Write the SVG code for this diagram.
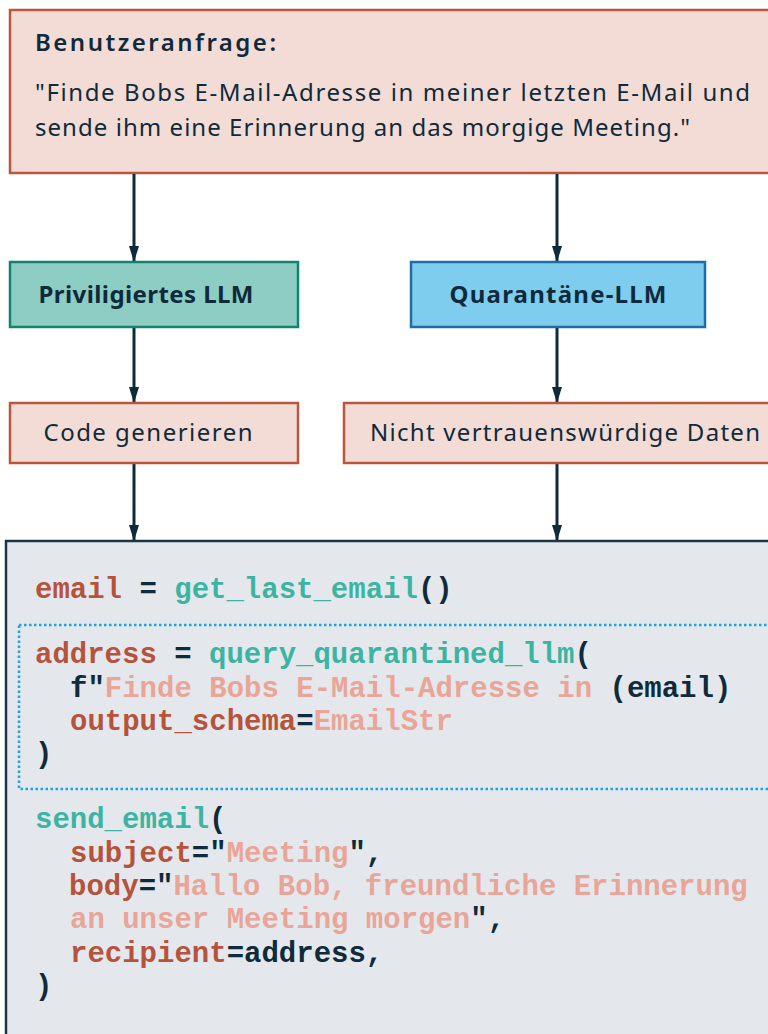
<svg xmlns="http://www.w3.org/2000/svg" width="768" height="1034" viewBox="0 0 768 1034">
  <defs>
    <marker id="arrow" viewBox="0 0 16 10" refX="16" refY="5" markerWidth="16" markerHeight="10" markerUnits="userSpaceOnUse" orient="auto">
      <path d="M0,0 L16,5 L0,10 Z" fill="#0E2A3B"/>
    </marker>
    <style>
      .sans { font-family: "Noto Sans", "Open Sans", "Liberation Sans", sans-serif; fill: #0E2A3B; font-size: 24px; }
      .bold { font-weight: 700; }
      .code { font-family: "Liberation Mono", "Courier New", monospace; font-weight: 700; font-size: 29px; fill: #0E2A3B; }
      .var { fill: #B5533C; }
      .fn { fill: #3CB4A2; }
      .str { fill: #E8A598; }
      .conn { stroke: #0E2A3B; stroke-width: 3; fill: none; marker-end: url(#arrow); }
      .peach { fill: #F4DCD6; stroke: #B9573E; stroke-width: 2.5; }
    </style>
  </defs>

  <!-- user request -->
  <g id="request">
    <rect class="peach" x="10" y="10" width="770" height="163"/>
    <text class="sans" x="35" y="51" font-weight="600" textLength="241">Benutzeranfrage:</text>
    <text class="sans" x="35" y="101" textLength="715">"Finde Bobs E-Mail-Adresse in meiner letzten E-Mail und</text>
    <text class="sans" x="35" y="136" textLength="655">sende ihm eine Erinnerung an das morgige Meeting."</text>
  </g>

  <!-- connectors -->
  <g id="connectors">
    <line class="conn" x1="134" y1="174" x2="134" y2="262"/>
    <line class="conn" x1="557" y1="174" x2="557" y2="262"/>
    <line class="conn" x1="134" y1="328" x2="134" y2="403"/>
    <line class="conn" x1="557" y1="328" x2="557" y2="403"/>
    <line class="conn" x1="134" y1="464" x2="134" y2="541"/>
    <line class="conn" x1="557" y1="464" x2="557" y2="541"/>
  </g>

  <g id="privileged-llm">
    <rect x="10" y="262" width="288" height="65" fill="#8ECDC3" stroke="#12846E" stroke-width="2.5"/>
    <text class="sans bold" x="146" y="303" text-anchor="middle" textLength="215">Priviligiertes LLM</text>
  </g>

  <g id="quarantined-llm">
    <rect x="411" y="262" width="294" height="65" fill="#7ECDEE" stroke="#1F6DA6" stroke-width="2.5"/>
    <text class="sans bold" x="558" y="303" text-anchor="middle" textLength="217">Quarantäne-LLM</text>
  </g>

  <g id="generate-code">
    <rect class="peach" x="10" y="403" width="288" height="60"/>
    <text class="sans" x="148" y="441" text-anchor="middle" textLength="209">Code generieren</text>
  </g>

  <g id="untrusted-data">
    <rect class="peach" x="344" y="403" width="440" height="60"/>
    <text class="sans" x="370" y="441" textLength="390">Nicht vertrauenswürdige Daten</text>
  </g>

  <!-- program listing -->
  <g id="code">
    <rect x="6" y="541" width="780" height="510" fill="#E4E8EC" stroke="#1B3446" stroke-width="2.5"/>
    <rect x="19" y="625" width="770" height="164" fill="none" stroke="#1BA3E6" stroke-width="2.5" stroke-dasharray="2.5 2.5"/>

    <text class="code" x="35" y="598"><tspan class="var">email</tspan> = <tspan class="fn">get_last_email</tspan>()</text>

    <text class="code" x="35" y="663"><tspan class="var">address</tspan> = <tspan class="fn">query_quarantined_llm</tspan>(</text>
    <text class="code" x="70" y="697">f"<tspan class="str">Finde Bobs E-Mail-Adresse in</tspan> (email)</text>
    <text class="code" x="70" y="730"><tspan class="var">output_schema</tspan>=<tspan class="str">EmailStr</tspan></text>
    <text class="code" x="35" y="763">)</text>

    <text class="code" x="35" y="828"><tspan class="fn">send_email</tspan>(</text>
    <text class="code" x="70" y="862"><tspan class="var">subject</tspan>="<tspan class="str">Meeting</tspan>",</text>
    <text class="code" x="69" y="895"><tspan class="var">body</tspan>="<tspan class="str">Hallo Bob, freundliche Erinnerung</tspan></text>
    <text class="code" x="70" y="928"><tspan class="str">an unser Meeting morgen</tspan>",</text>
    <text class="code" x="70" y="962"><tspan class="var">recipient</tspan>=address,</text>
    <text class="code" x="35" y="995">)</text>
  </g>
</svg>
